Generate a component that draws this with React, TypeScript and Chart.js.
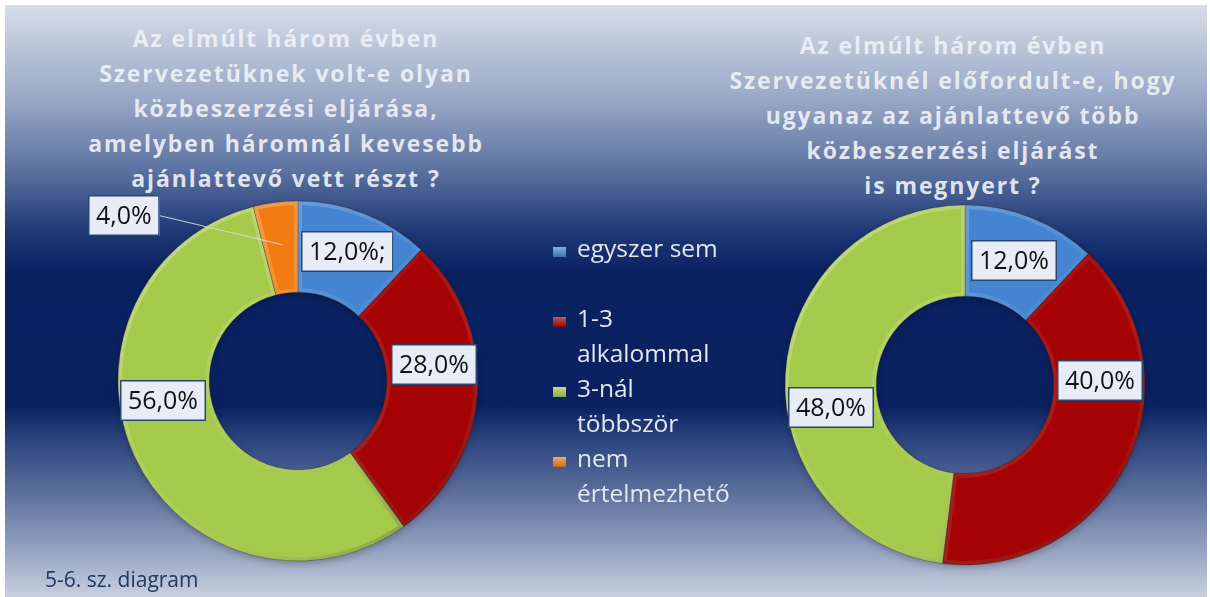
import React, { useEffect, useRef } from "react";
import { Chart, registerables } from "chart.js";

Chart.register(...registerables);

// ---------- data ----------
const categories = ["egyszer sem", "1-3 alkalommal", "3-nál többször", "nem értelmezhető"];
const legendLines = [["egyszer sem", ""], ["1-3", "alkalommal"], ["3-nál", "többször"], ["nem", "értelmezhető"]];
const leftValues = [12, 28, 56, 4];
const rightValues = [12, 40, 48];
const leftLabelTexts = ["12,0%;", "28,0%", "56,0%", "4,0%"];
const rightLabelTexts = ["12,0%", "40,0%", "48,0%"];
const leftTitle = [
  "Az elmúlt három évben",
  "Szervezetüknek volt-e olyan",
  "közbeszerzési eljárása,",
  "amelyben háromnál kevesebb",
  "ajánlattevő vett részt ?",
];
const rightTitle = [
  "Az elmúlt három évben",
  "Szervezetüknél előfordult-e, hogy",
  "ugyanaz az ajánlattevő több",
  "közbeszerzési eljárást",
  "is megnyert ?",
];
const footerText = "5-6. sz. diagram";

// ---------- styles ----------
const sliceColors = ["#4484d0", "#a50303", "#a5c94b", "#f27c12"];
const W = 1210;
const H = 597;

function arcPath(ctx: CanvasRenderingContext2D, a: any) {
  ctx.beginPath();
  ctx.arc(a.x, a.y, a.outerRadius, a.startAngle, a.endAngle);
  ctx.arc(a.x, a.y, a.innerRadius, a.endAngle, a.startAngle, true);
  ctx.closePath();
}

const ringShadow = {
  id: "ringShadow",
  beforeDatasetsDraw(chart: any) {
    const meta = chart.getDatasetMeta(0);
    const a: any = meta.data[0];
    if (!a) return;
    const ctx = chart.ctx;
    ctx.save();
    ctx.shadowColor = "rgba(0,0,20,0.5)";
    ctx.shadowBlur = 8;
    ctx.shadowOffsetY = 3;
    ctx.fillStyle = "rgba(0,0,0,0.6)";
    ctx.beginPath();
    ctx.arc(a.x, a.y, a.outerRadius - 1, 0, Math.PI * 2);
    ctx.arc(a.x, a.y, a.innerRadius + 1, Math.PI * 2, 0, true);
    ctx.closePath();
    ctx.fill();
    ctx.restore();
  },
};

const bevel = {
  id: "bevel",
  afterDatasetsDraw(chart: any) {
    const meta = chart.getDatasetMeta(0);
    const ctx = chart.ctx;
    meta.data.forEach((a: any) => {
      const R = a.outerRadius;
      ctx.save();
      arcPath(ctx, a);
      ctx.clip();
      const g = ctx.createLinearGradient(a.x - R, a.y - R, a.x + R, a.y + R);
      g.addColorStop(0, "rgba(255,255,255,0.35)");
      g.addColorStop(0.5, "rgba(255,255,255,0.05)");
      g.addColorStop(1, "rgba(0,0,0,0.35)");
      ctx.strokeStyle = g;
      ctx.lineWidth = 8;
      arcPath(ctx, a);
      ctx.stroke();
      ctx.restore();
    });
  },
};

const boxLabels = {
  id: "boxLabels",
  afterDatasetsDraw(chart: any, _args: any, opts: any) {
    const meta = chart.getDatasetMeta(0);
    const ctx = chart.ctx;
    ctx.save();
    ctx.font = `${opts.fontSize}px ${opts.fontFamily}`;
    meta.data.forEach((arc: any, i: number) => {
      const p = arc.tooltipPosition(false);
      const n = (opts.nudges && opts.nudges[i]) || [0, 0];
      const cx = p.x + n[0];
      const cy = p.y + n[1];
      const text = opts.texts[i];
      const w = ctx.measureText(text).width + opts.padX * 2;
      const h = opts.boxHeight;
      const x = Math.round(cx - w / 2);
      const y = Math.round(cy - h / 2);
      if (opts.leaders && opts.leaders[i]) {
        ctx.strokeStyle = "rgba(215,222,236,0.9)";
        ctx.lineWidth = 1;
        ctx.beginPath();
        ctx.moveTo(x + w, cy);
        ctx.lineTo(p.x + 1, p.y - 3);
        ctx.stroke();
      }
      ctx.fillStyle = opts.fill;
      ctx.fillRect(x, y, w, h);
      ctx.strokeStyle = opts.stroke;
      ctx.lineWidth = 1.5;
      ctx.strokeRect(x + 0.75, y + 0.75, w - 1.5, h - 1.5);
      ctx.fillStyle = opts.color;
      ctx.textAlign = "center";
      ctx.textBaseline = "middle";
      ctx.fillText(text, x + w / 2, y + h / 2 + 1);
    });
    ctx.restore();
  },
};

function makeConfig(values: number[], labels: string[], center: [number, number], texts: string[], nudges: number[][], leaders: boolean[]) {
  const R = 180;
  const side = 2 * R + 2;
  const left = center[0] - side / 2;
  const top = center[1] - side / 2;
  return {
    type: "doughnut" as const,
    data: {
      labels,
      datasets: [
        {
          data: values,
          backgroundColor: sliceColors.slice(0, values.length),
          borderColor: "rgba(40,20,20,0.35)",
          borderWidth: 1,
          hoverOffset: 0,
        },
      ],
    },
    options: {
      responsive: false,
      animation: false as const,
      radius: R,
      cutout: 89,
      layout: {
        padding: { left, top, right: W - left - side, bottom: H - top - side },
      },
      plugins: {
        legend: { display: false },
        tooltip: { enabled: false },
        boxLabels: {
          texts,
          nudges,
          leaders,
          fontSize: 25,
          fontFamily: '"Open Sans", sans-serif',
          padX: 8,
          boxHeight: 41,
          fill: "#e8ecf6",
          stroke: "#2a4672",
          color: "#111111",
        },
      },
    },
    plugins: [ringShadow, bevel, boxLabels],
  };
}

function DonutCanvas(props: { cfg: any }) {
  const ref = useRef<HTMLCanvasElement | null>(null);
  useEffect(() => {
    if (!ref.current) return;
    const chart = new Chart(ref.current, props.cfg);
    return () => chart.destroy();
  }, []);
  return <canvas ref={ref} width={W} height={H} style={{ position: "absolute", left: 0, top: 0, width: W, height: H }} />;
}

const titleStyle: React.CSSProperties = {
  position: "absolute",
  width: 560,
  textAlign: "center",
  fontFamily: '"Open Sans", sans-serif',
  fontWeight: 700,
  fontSize: 23,
  letterSpacing: "1.9px",
  lineHeight: "35px",
  color: "rgba(238,241,247,0.93)",
  whiteSpace: "nowrap",
};

export default function App() {
  const leftCfg = makeConfig(
    leftValues,
    categories,
    [298, 381],
    leftLabelTexts,
    [[0, -5], [2, -25], [-13, -38], [-157, -32]],
    [false, false, false, true]
  );
  const rightCfg = makeConfig(
    rightValues,
    categories.slice(0, 3),
    [965, 385],
    rightLabelTexts,
    [[0, 0], [13, -62], [0, 31]],
    [false, false, false]
  );
  const legendTop = 230;
  const lh = 35;
  return (
    <div style={{ position: "fixed", left: 0, top: 0, width: W, height: H, background: "#ffffff", overflow: "hidden" }}>
      <div
        style={{
          position: "absolute",
          left: 5,
          top: 5,
          width: 1202,
          height: 592,
          background:
            "linear-gradient(to bottom, #d7dde8 0%, #98a7c5 16%, #5b71a0 28%, #1f3a76 38%, #0b2262 45%, #0a2160 67.6%, #2c4580 73.5%, #5a6d9b 82%, #8f9dbd 91%, #c8d0de 100%)",
        }}
      />
      <div style={{ ...titleStyle, left: 286 - 280, top: 21 }}>
        {leftTitle.map((l, i) => (
          <div key={i}>{l}</div>
        ))}
      </div>
      <div style={{ ...titleStyle, left: 953 - 280, top: 28 }}>
        {rightTitle.map((l, i) => (
          <div key={i}>{l}</div>
        ))}
      </div>
      <DonutCanvas cfg={leftCfg} />
      <DonutCanvas cfg={rightCfg} />
      {legendLines.map((lines, i) => {
        const row = i * 2;
        const top = legendTop + row * lh;
        return (
          <div key={i}>
            <div
              style={{
                position: "absolute",
                left: 553,
                top: top + 17,
                width: 13,
                height: 10,
                background: `linear-gradient(to bottom, rgba(255,255,255,0.35), rgba(0,0,0,0.15)), ${sliceColors[i]}`,
              }}
            />
            {lines.map((t, j) => (
              <div
                key={j}
                style={{
                  position: "absolute",
                  left: 577,
                  top: top + j * lh,
                  fontFamily: '"Open Sans", sans-serif',
                  fontSize: 24.5,
                  lineHeight: lh + "px",
                  color: "#e2e7f0",
                  whiteSpace: "nowrap",
                }}
              >
                {t}
              </div>
            ))}
          </div>
        );
      })}
      <div
        style={{
          position: "absolute",
          left: 45,
          top: 565,
          fontFamily: '"Open Sans", sans-serif',
          fontSize: 21,
          lineHeight: "28px",
          color: "#1f3864",
          whiteSpace: "nowrap",
        }}
      >
        {footerText}
      </div>
    </div>
  );
}
